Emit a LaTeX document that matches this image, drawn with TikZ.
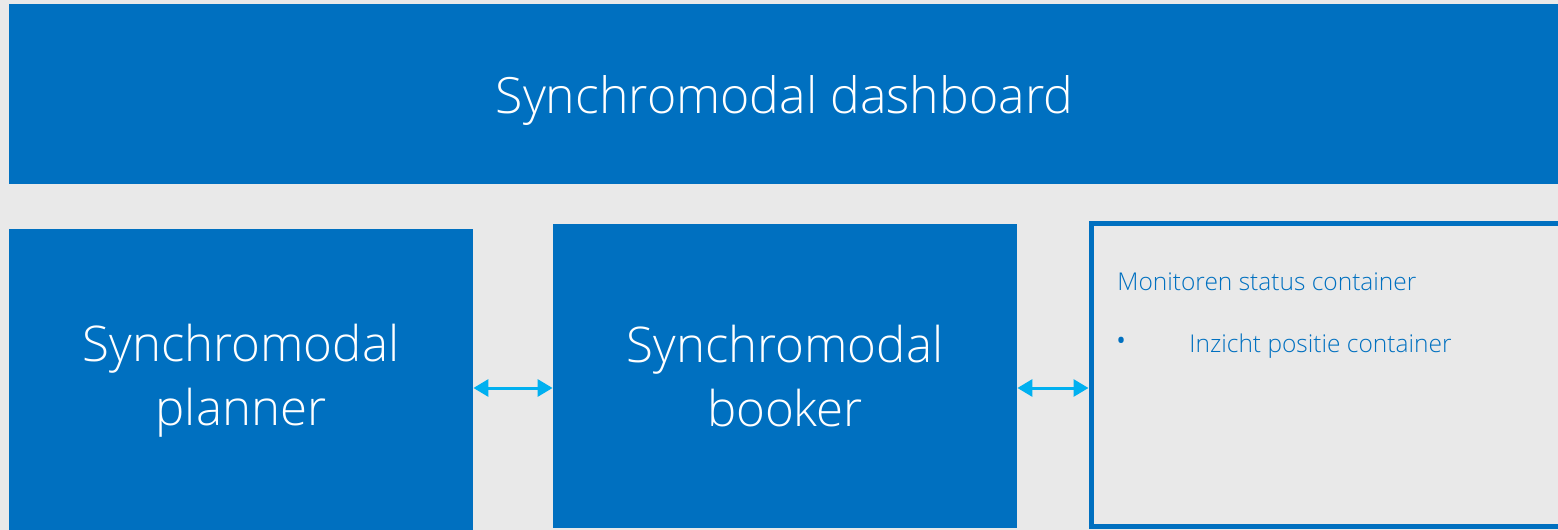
\documentclass[tikz,border=0pt]{standalone}
\usepackage{fontspec}
\setmainfont{Open Sans}[UprightFont={* Light}]
\usepackage{tikz}
\usetikzlibrary{arrows.meta}
\usetikzlibrary{positioning}

\definecolor{boxblue}{HTML}{0070C0}
\definecolor{linkcyan}{HTML}{00B0F0}
\definecolor{pagegray}{HTML}{E9E9E9}

\begin{document}
\begin{tikzpicture} [
    x=0.5pt, y=-0.5pt,
    block/.style = {fill=boxblue, text=white, inner sep=0pt, align=center},
    panel/.style = {draw=boxblue, line width=2.5pt, inner sep=0pt},
    infotext/.style = {text=boxblue, inner sep=0pt, font=\fontsize{12.25}{14}\selectfont},
    link/.style = {draw=linkcyan, line width=1.5pt, {Triangle[length=7.5pt,width=8.5pt]}-{Triangle[length=7.5pt,width=8.5pt]}}
    ]
    \useasboundingbox[fill=pagegray] (0,0) rectangle (1558,530);

    \node[block, minimum width=775.5pt, minimum height=90pt, text height=24pt, text depth=5pt, font=\fontsize{25}{30}\selectfont] (dashboard) at (784.5,94) {Synchromodal dashboard};
    \node[block, minimum width=232pt, minimum height=152pt, font=\fontsize{24.6}{32}\selectfont] (planner) at (241,381) {Synchromodal\\planner};
    \node[block, minimum width=232pt, minimum height=152pt, font=\fontsize{24.6}{32}\selectfont] (booker) at (785,376) {Synchromodal\\booker};
    \node[panel, minimum width=254.5pt, minimum height=151.5pt] (monitor) at (1345.5,374.5) {};

    \node[infotext, anchor=base west] (mtitle) at (1117,290) {Monitoren status container};
    \node[infotext, anchor=base west, font=\fontsize{18}{18}\selectfont] (mbullet) at (1114,353) {•};
    \node[infotext, anchor=base west] (mitem) at (1189,352) {Inzicht positie container};

    \coordinate (linkrow) at (0,388);
    \path[link] (planner.east |- linkrow) -- (booker.west |- linkrow);
    \path[link] (booker.east |- linkrow) -- (monitor.west |- linkrow);
  \end{tikzpicture}
\end{document}
